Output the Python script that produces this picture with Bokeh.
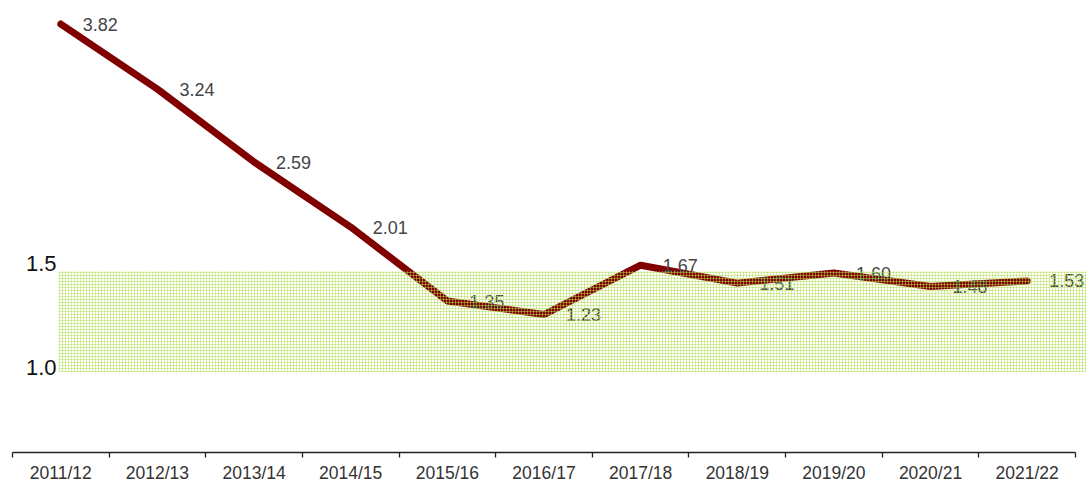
from bokeh.plotting import figure
from bokeh.models import Range1d, LinearAxis, FixedTicker, BoxAnnotation, ColumnDataSource
from bokeh.core.properties import value
from bokeh.embed import file_html
from bokeh.resources import INLINE

# ---- data ----
seasons = ["2011/12", "2012/13", "2013/14", "2014/15", "2015/16", "2016/17",
           "2017/18", "2018/19", "2019/20", "2020/21", "2021/22"]
rates = [3.82, 3.24, 2.59, 2.01, 1.35, 1.23, 1.67, 1.51, 1.60, 1.48, 1.53]
y_ticks = [1.0, 1.5]
y_tick_labels = ["1.0", "1.5"]
band_low = 0.98
band_high = 1.465

idx = list(range(len(seasons)))
src = ColumnDataSource(dict(x=idx, y=rates, label=[f"{r:.2f}" for r in rates]))

n = len(seasons)
p = figure(width=1086, height=485, output_backend="svg", toolbar_location=None,
           x_range=Range1d(-0.5, n - 0.386),
           y_range=Range1d(0.593, 2.764),
           y_axis_location=None,
           min_border_left=12, min_border_right=0, min_border_top=0, min_border_bottom=0)
p.extra_y_ranges = {"line": Range1d(0, 4.03)}
p.outline_line_color = None
p.grid.visible = False
p.background_fill_color = "white"
p.border_fill_color = "white"

# x axis: labels at category centres, ticks at category boundaries
xa = p.xaxis[0]
xa.ticker = FixedTicker(ticks=idx, minor_ticks=[i - 0.5 for i in range(n + 1)])
xa.major_label_overrides = {i: s for i, s in enumerate(seasons)}
xa.bounds = (-0.5, n - 0.5)
xa.major_tick_line_color = None
xa.major_tick_in = 0
xa.major_tick_out = 0
xa.minor_tick_in = 0
xa.minor_tick_out = 5
xa.minor_tick_line_color = "#222222"
xa.minor_tick_line_width = 1.3
xa.axis_line_color = "#222222"
xa.axis_line_width = 1.3
xa.major_label_standoff = 5
xa.major_label_text_font = "Liberation Sans"
xa.major_label_text_font_size = "17.5px"
xa.major_label_text_color = "#333333"

# y axis (band scale)
ya = LinearAxis(ticker=FixedTicker(ticks=y_ticks),
                major_label_overrides={t: l for t, l in zip(y_ticks, y_tick_labels)},
                fixed_location=-0.024,
                axis_line_color=None, major_tick_line_color=None, minor_tick_line_color=None,
                major_tick_in=0, major_tick_out=0, minor_tick_in=0, minor_tick_out=0,
                major_label_standoff=2,
                major_label_text_font="Liberation Sans",
                major_label_text_font_size="22px",
                major_label_text_color="#111111")
p.add_layout(ya, "left")

p.line("x", "y", source=src, y_range_name="line", line_color="#800000", line_width=7,
       line_cap="round", line_join="round")
p.text("x", "y", text="label", source=src, y_range_name="line", x_offset=22,
       text_baseline="middle", text_align="left",
       text_font=value("Liberation Sans"), text_font_size="18px", text_color="#444444")

band = BoxAnnotation(left=-0.024, bottom=band_low, top=band_high,
                     fill_color=None, line_color=None,
                     hatch_pattern="+", hatch_scale=3, hatch_weight=1,
                     hatch_color="#b0dc50", hatch_alpha=0.5)
p.add_layout(band)

open("out.html", "w").write(file_html(p, INLINE))
